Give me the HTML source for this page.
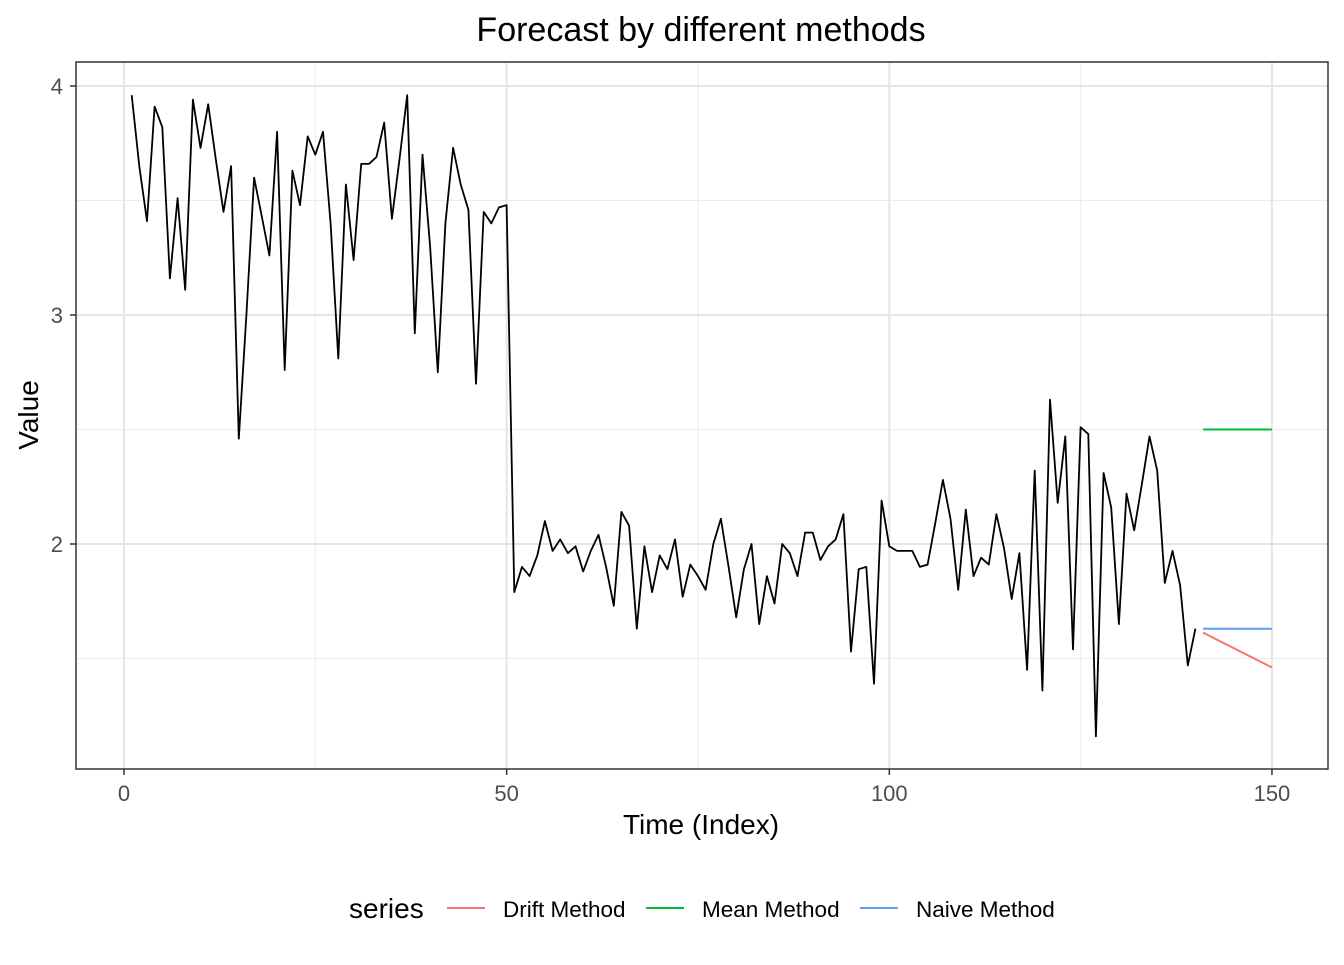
<!DOCTYPE html>
<html><head><meta charset="utf-8"><style>
body{margin:0;background:#fff;font-family:"Liberation Sans",sans-serif}
</style></head><body>
<svg id="chart" width="1344" height="960" xmlns="http://www.w3.org/2000/svg">
<rect width="1344" height="960" fill="#fff"/>
<text x="701" y="41" font-size="34" text-anchor="middle" fill="#000">Forecast by different methods</text>
<g id="grid"></g>
<g id="series"></g>
<rect x="76" y="62" width="1252" height="707" fill="none" stroke="#333" stroke-width="1.5"/>
<g id="ticks"></g>
<text x="701" y="834" font-size="28" text-anchor="middle">Time (Index)</text>
<text transform="translate(38,415) rotate(-90)" font-size="28" text-anchor="middle">Value</text>
<g>
<text x="349" y="918" font-size="28">series</text>
<g><line x1="447" x2="485" y1="908" y2="908" stroke="#F8766D" stroke-width="2"/><text x="503" y="917" font-size="22.5">Drift Method</text></g>
<g><line x1="646" x2="684" y1="908" y2="908" stroke="#00BA38" stroke-width="2"/><text x="702" y="917" font-size="22.5">Mean Method</text></g>
<g><line x1="860" x2="898" y1="908" y2="908" stroke="#619CFF" stroke-width="2"/><text x="916" y="917" font-size="22.5">Naive Method</text></g>
</g>
</svg>
<script>
const values=[3.96,3.65,3.41,3.91,3.82,3.16,3.51,3.11,3.94,3.73,3.92,3.68,3.45,3.65,2.46,3.0,3.60,3.43,3.26,3.80,2.76,3.63,3.48,3.78,3.70,3.80,3.40,2.81,3.57,3.24,3.66,3.66,3.69,3.84,3.42,3.68,3.96,2.92,3.70,3.30,2.75,3.40,3.73,3.57,3.46,2.70,3.45,3.40,3.47,3.48,1.79,1.90,1.86,1.95,2.10,1.97,2.02,1.96,1.99,1.88,1.97,2.04,1.90,1.73,2.14,2.08,1.63,1.99,1.79,1.95,1.89,2.02,1.77,1.91,1.86,1.80,2.00,2.11,1.90,1.68,1.89,2.00,1.65,1.86,1.74,2.00,1.96,1.86,2.05,2.05,1.93,1.99,2.02,2.13,1.53,1.89,1.90,1.39,2.19,1.99,1.97,1.97,1.97,1.90,1.91,2.09,2.28,2.11,1.80,2.15,1.86,1.94,1.91,2.13,1.98,1.76,1.96,1.45,2.32,1.36,2.63,2.18,2.47,1.54,2.51,2.48,1.16,2.31,2.16,1.65,2.22,2.06,2.26,2.47,2.32,1.83,1.97,1.82,1.47,1.63];
const forecastStart=141, forecastEnd=150;
const meanValue=2.50, naiveValue=1.63;
const driftStart=1.613, driftEnd=1.461;
const xTicks=[0,50,100,150], yTicks=[2,3,4];
const xMinor=[25,75,125], yMinor=[1.5,2.5,3.5];
const X=v=>124+v*7.653, Y=v=>86+(4-v)*229;
const NS="http://www.w3.org/2000/svg";
function mk(parent,tag,attrs){const e=document.createElementNS(NS,tag);for(const k in attrs)e.setAttribute(k,attrs[k]);parent.appendChild(e);return e;}
const grid=document.getElementById('grid'),ser=document.getElementById('series'),tk=document.getElementById('ticks');
xMinor.forEach(v=>{const l=mk(grid,'line',{x1:X(v),x2:X(v),y1:62,y2:769,stroke:'#ebebeb','stroke-width':1});

});
yMinor.forEach(v=>{const l=mk(grid,'line',{x1:76,x2:1328,y1:Y(v),y2:Y(v),stroke:'#ebebeb','stroke-width':1});

});
xTicks.forEach(v=>{const l=mk(grid,'line',{x1:X(v),x2:X(v),y1:62,y2:769,stroke:'#e5e5e5','stroke-width':2});


mk(tk,'line',{x1:X(v),x2:X(v),y1:769,y2:775,stroke:'#333','stroke-width':1.5});
const t=mk(tk,'text',{x:X(v),y:801,'font-size':22,'text-anchor':'middle',fill:'#4d4d4d'});t.textContent=v;

});
yTicks.forEach(v=>{const l=mk(grid,'line',{x1:76,x2:1328,y1:Y(v),y2:Y(v),stroke:'#e5e5e5','stroke-width':2});


mk(tk,'line',{x1:70,x2:76,y1:Y(v),y2:Y(v),stroke:'#333','stroke-width':1.5});
const t=mk(tk,'text',{x:63,y:Y(v)+8,'font-size':22,'text-anchor':'end',fill:'#4d4d4d'});t.textContent=v;

});
const d=values.map((v,i)=>(i?'L':'M')+X(i+1).toFixed(1)+','+Y(v).toFixed(1)).join('');
const p=mk(ser,'path',{d:d,fill:'none',stroke:'#000','stroke-width':1.8,'stroke-linejoin':'round'});


const mean=mk(ser,'line',{x1:X(forecastStart),x2:X(forecastEnd),y1:Y(meanValue),y2:Y(meanValue),stroke:'#00BA38','stroke-width':2});


const naive=mk(ser,'line',{x1:X(forecastStart),x2:X(forecastEnd),y1:Y(naiveValue),y2:Y(naiveValue),stroke:'#619CFF','stroke-width':2});


const drift=mk(ser,'line',{x1:X(forecastStart),x2:X(forecastEnd),y1:Y(driftStart),y2:Y(driftEnd),stroke:'#F8766D','stroke-width':2});


</script>
</body></html>
